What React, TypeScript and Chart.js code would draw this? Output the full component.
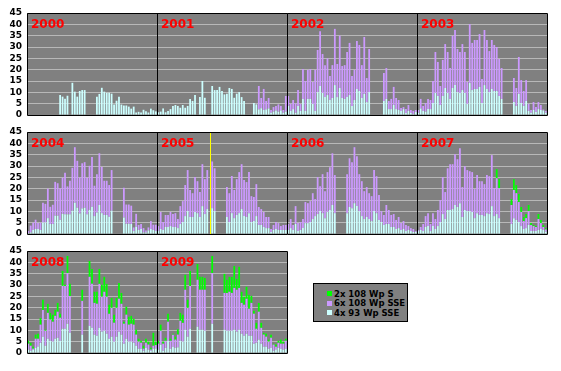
import React, { useEffect, useRef } from "react";
import { Chart, registerables } from "chart.js";
Chart.register(...registerables);

const N = null;
const WEEKS_PER_YEAR = 53;
const Y_MAX = 45;
const Y_STEP = 5;
const seriesNames = ["4x 93 Wp SSE", "6x 108 Wp SSE", "2x 108 Wp S"];
const seriesColors = ["#ccffff", "#cc99ff", "#00ff00"];
const legendOrder = [2, 1, 0];
const rowYears = [
  [2000, 2001, 2002, 2003],
  [2004, 2005, 2006, 2007],
  [2008, 2009],
];
const markerYear = 2005;
const markerWeek = 21;

// 4x 93 Wp SSE (cyan), 6x 108 Wp SSE (purple), 2x 108 Wp S (green) — weekly values
const c2000 = [N, N, N, N, N, N, N, N, N, N, N, N, N, 8.8, 8.1, 7.2, 8.5, N, 14.2, 10.3, 8.1, 10.6, 11.0, 11.0, N, N, N, N, 8.1, 9.3, 12.0, 10.3, 9.8, 9.8, 9.4, 4.6, 6.3, 8.0, 4.6, 4.2, 4.2, 3.7, 2.8, 3.7, 1.1, 1.4, 1.1, 2.3, 1.6, 1.1, 2.8, 2.1, 1.6];

const c2001 = [1.2, 1.5, 2.9, 1.2, 1.8, 2.6, 4.0, 4.4, 4.0, 3.2, 4.4, 3.2, 4.0, 7.1, 6.2, 8.8, N, 7.9, 15.0, 7.6, N, N, 12.8, 11.0, 11.0, 12.4, 10.6, 9.1, 9.4, 11.9, 11.5, 7.6, 9.4, 10.1, 7.9, 6.2, N, N, N, 5.3, 4.7, 2.5, 3.0, 2.2, 2.5, 2.9, 1.0, 1.5, 2.0, 1.5, 2.0, 1.0, 1.5];
const p2001 = [N, N, N, N, N, N, N, N, N, N, N, N, N, N, N, N, N, N, N, N, N, N, N, N, N, N, N, N, N, N, N, N, N, N, N, N, N, N, N, N, N, 10.3, 4.5, 9.3, 3.7, 4.6, 1.2, 2.0, 2.0, 3.2, 2.0, 1.2, 6.9];

const c2002 = [4.0, 1.8, 2.6, 1.0, 4.0, 1.8, 7.1, 1.8, 7.1, 7.1, 4.9, 1.8, 10.1, 12.8, 9.7, 7.9, 8.8, 6.6, 7.5, 13.2, 7.9, 11.9, 7.5, 7.1, 7.9, 8.8, 4.0, 6.6, 11.5, 10.6, 7.5, 9.3, 5.7, 10.1, N, N, N, N, N, 6.2, 7.1, 2.6, 2.6, 4.4, 2.6, 2.2, 1.8, 2.6, 0.9, 1.8, 0.9, 0.4, 1.3];
const p2002 = [4.4, 3.1, 4.0, 4.1, 7.0, 3.1, 13.2, 13.2, 12.8, 13.2, 9.7, 18.1, 18.6, 24.2, 17.2, 14.1, 16.2, 10.6, 14.5, 24.8, 14.6, 23.1, 14.1, 14.9, 19.9, 23.0, 13.2, 13.3, 21.1, 20.3, 14.5, 25.1, 10.6, 19.0, N, N, N, N, N, 12.3, 13.6, 3.6, 4.5, 8.0, 4.9, 4.4, 1.3, 0.9, 1.7, 2.6, 1.3, 1.4, 0.9];

const c2003 = [1.0, 2.9, 1.8, 1.5, 2.6, 2.6, 5.3, 9.7, 8.4, 4.4, 8.4, 11.9, 9.7, 7.1, 11.9, 13.2, 10.1, 9.7, 11.0, 9.7, 4.9, 14.1, 11.0, 11.5, 11.5, 12.4, 5.3, 13.2, 11.5, 10.1, 11.5, 10.6, 10.6, 8.4, 7.1, N, N, N, N, 5.7, 4.0, 9.3, 5.3, 4.0, 6.2, 1.8, 1.0, 2.2, 1.3, 2.6, 2.2, 2.0, 1.0];
const p2003 = [1.2, 4.2, 2.2, 3.8, 4.5, 4.0, 9.7, 18.1, 15.0, 8.4, 15.9, 19.4, 18.1, 13.6, 23.0, 24.3, 19.0, 18.1, 20.3, 18.1, 9.7, 26.0, 20.8, 21.6, 21.6, 23.3, 10.6, 24.3, 21.6, 18.1, 21.6, 20.3, 19.4, 16.3, 13.6, N, N, N, N, 10.6, 7.9, 16.3, 10.1, 6.6, 9.2, 3.1, 1.2, 3.5, 2.2, 3.1, 2.2, 0.4, 0.8];

const c2004 = [0.4, 0.7, 1.8, 2.2, 2.2, 1.8, 5.1, 5.1, 7.0, 4.4, 4.4, 8.1, 8.1, 6.3, 8.9, 8.7, 8.7, 8.7, 10.3, 13.8, 11.6, 9.1, 11.3, 11.6, 8.7, 10.7, 12.0, 7.9, 9.5, 12.8, 9.2, 8.4, 8.4, 7.6, 10.3, N, N, N, N, 7.3, 4.5, 4.5, 4.4, 1.3, 3.2, 1.8, 2.2, 0.7, 0.7, 1.6, 2.2, 1.8, 1.3];
const p2004 = [0.9, 3.0, 3.2, 4.1, 2.6, 3.2, 8.7, 8.2, 13.0, 7.6, 8.5, 14.9, 14.3, 13.8, 15.9, 18.3, 12.3, 14.8, 18.9, 24.5, 20.7, 15.8, 19.9, 20.1, 16.1, 19.4, 22.0, 13.4, 16.9, 22.8, 20.4, 15.1, 15.1, 14.0, 17.9, N, N, N, N, 13.1, 8.5, 8.5, 8.1, 1.6, 5.7, 2.2, 2.2, 1.9, 0.8, 1.3, 3.5, 2.3, 2.8];

const c2005 = [1.3, 2.2, 1.8, 3.1, 3.1, 3.5, 3.1, 3.1, 2.6, 4.4, 5.3, 7.9, 10.1, 7.5, 7.5, 9.7, 9.2, 7.5, 12.3, 8.8, 11.0, N, 11.4, 10.1, N, N, N, N, 7.5, 5.3, 9.2, 7.0, 8.4, 9.2, 11.0, 7.9, 7.5, 9.2, 5.3, 5.7, 7.9, 4.0, 4.0, 3.1, 2.6, 2.6, 0.9, 1.8, 2.2, 1.8, 1.8, 1.8, 1.8];
const p2005 = [2.2, 7.5, 3.5, 5.3, 5.3, 6.2, 5.7, 6.1, 4.0, 7.9, 9.2, 13.7, 18.1, 11.9, 10.5, 15.4, 14.1, 11.0, 18.5, 15.4, 17.2, N, 20.6, 18.9, N, N, N, N, 13.2, 12.7, 16.4, 12.4, 15.8, 18.1, 19.8, 15.9, 15.4, 18.1, 11.4, 10.6, 14.1, 7.9, 7.0, 6.6, 4.9, 4.9, 1.3, 2.2, 3.1, 3.0, 1.7, 2.2, 2.2];

const c2006 = [1.8, 2.6, 1.8, 4.4, 1.3, 1.8, 2.6, 4.8, 4.8, 5.3, 6.6, 7.9, 8.8, 10.1, 9.2, 7.0, 9.7, 10.6, 12.8, 9.2, N, N, N, N, 9.2, 11.9, 11.4, 13.6, 12.3, 10.1, 7.9, 6.6, 7.5, 6.6, 5.7, 10.1, 9.2, 6.2, 5.3, 4.0, 4.4, 4.4, 3.1, 3.1, 2.2, 2.6, 1.8, 2.2, 1.3, 1.8, 1.3, 0.9, 0.9];
const p2006 = [2.6, 4.0, 2.2, 7.9, 3.5, 3.5, 4.0, 9.3, 8.8, 9.2, 11.4, 7.5, 16.3, 11.0, 17.2, 11.9, 17.6, 18.9, 22.8, 16.8, N, N, N, N, 17.2, 21.5, 20.3, 24.7, 22.0, 16.3, 15.4, 12.3, 13.2, 11.4, 11.0, 18.1, 16.3, 11.0, 4.8, 4.4, 8.4, 6.2, 5.3, 5.7, 4.0, 4.9, 3.0, 3.5, 2.7, 1.7, 1.3, 1.3, 0.4];

const c2007 = [1.3, 1.8, 1.3, 3.1, 3.5, 1.3, 3.5, 2.2, 3.5, 5.3, 8.8, 6.6, 10.6, 10.6, 11.0, 12.8, 11.9, 13.6, 7.5, 10.6, 10.1, 10.1, 9.7, 7.0, 9.2, 8.4, 8.4, 7.9, 9.2, 8.8, 12.3, 7.9, 8.8, 7.0, N, N, N, N, 4.4, 7.0, 6.2, 5.3, 3.5, 2.2, 2.6, 4.0, 1.3, 1.3, 1.3, 1.8, 2.2, 1.8, 1.0];
const p2007 = [0.5, 1.3, 3.1, 4.8, 5.7, 3.1, 5.7, 4.4, 7.1, 9.7, 16.3, 11.9, 18.4, 20.2, 19.8, 22.4, 21.1, 24.2, 13.2, 19.3, 18.1, 17.6, 17.6, 12.8, 16.8, 14.9, 14.9, 14.1, 16.8, 16.7, 22.5, 12.3, 15.8, 13.2, N, N, N, N, 8.4, 12.4, 11.8, 8.8, 6.2, 3.5, 4.4, 6.1, 2.7, 2.2, 1.8, 4.8, 2.6, 1.3, 1.0];
const g2007 = [N, N, N, N, N, N, N, N, N, N, N, N, N, N, N, N, N, N, N, N, N, N, N, N, N, N, N, N, N, N, N, N, 4.0, 4.0, N, N, N, N, 2.6, 4.8, 3.6, 3.5, 2.2, 1.8, 1.8, 2.7, 0.8, 0.5, 0.4, 2.2, 1.4, 0.9, 0.5];

const c2008 = [1.5, 1.0, 1.5, 2.2, 2.9, 4.5, 7.2, 3.2, 6.3, 5.4, 5.0, 6.3, 6.7, 5.4, 10.7, 10.7, 12.9, 8.9, N, N, N, N, 8.1, N, N, 12.0, 11.1, 8.1, 7.6, 11.1, 9.4, 9.8, 8.5, 6.3, 7.2, 5.0, 7.2, 9.4, 8.1, 4.1, 6.3, 5.0, 5.0, 4.5, 3.2, 1.9, 1.9, 1.0, 2.3, 1.5, 1.0, 1.9, 2.0];
const p2008 = [2.6, 2.2, 0.4, 4.1, 3.4, 8.0, 11.8, 6.6, 11.4, 9.3, 8.8, 10.1, 11.5, 10.1, 18.9, 18.9, 22.4, 16.3, N, N, N, N, 14.9, N, N, 21.6, 19.4, 14.0, 14.1, 19.4, 15.4, 17.2, 16.3, 11.0, 12.7, 8.3, 12.7, 14.5, 13.6, 8.8, 10.6, 7.5, 7.9, 8.0, 4.9, 3.1, 2.6, 0.9, 2.2, 2.2, 0.5, 1.3, 1.5];
const g2008 = [1.3, 1.3, 0.9, 1.8, 2.2, 2.9, 4.5, 0.5, 4.0, 3.0, 3.1, 2.6, 3.9, 1.8, 6.6, 0.5, 7.5, 5.3, N, N, N, N, 4.9, N, N, 7.0, 6.6, 4.9, 5.3, 6.6, 5.3, 6.6, 5.7, 4.0, 4.4, 3.6, 4.4, 7.0, 4.8, 0.9, 3.5, 3.5, 3.5, 2.6, 2.2, 1.3, 0.9, 1.3, 1.8, 1.3, 0.8, 5.7, 1.5];

const c2009 = [1.5, 3.7, 1.0, 2.3, 5.4, 1.9, 2.8, 2.3, 2.5, 5.4, 5.0, 10.3, 7.2, 10.7, N, N, 11.6, 10.3, 10.3, 9.8, N, N, 12.9, N, N, N, N, 10.3, 9.8, 9.8, 9.8, 10.3, 9.4, 10.3, 8.5, 7.6, 8.5, 7.6, 7.6, 4.1, 4.5, 5.9, 4.1, 2.8, 2.8, 1.9, 2.3, 1.0, 1.5, 2.3, 1.9, 1.5, 1.9];
const p2009 = [2.6, 6.1, 3.1, 3.1, 8.4, 3.5, 5.3, 3.6, 5.6, 8.8, 8.3, 17.6, 12.7, 18.9, N, N, 20.7, 17.6, 17.6, 18.1, N, N, 22.4, N, N, N, N, 16.2, 16.7, 17.2, 16.7, 18.4, 18.5, 18.4, 13.6, 13.7, 15.4, 11.9, 14.5, 13.2, 6.2, 12.3, 7.0, 5.3, 4.4, 3.1, 4.4, 2.7, 1.3, 2.2, 2.2, 2.6, 3.5];
const g2009 = [1.3, 2.7, 0.9, 1.3, 3.5, 0.9, 0.4, 1.3, 2.4, 3.5, 3.6, 6.6, 3.6, 6.6, N, N, 7.0, 5.7, 5.7, 5.2, N, N, 7.5, N, N, N, N, 8.4, 5.8, 6.6, 7.1, 9.7, 4.8, 9.3, 4.9, 3.5, 5.3, 6.2, 3.1, 1.3, 2.6, 3.9, 2.2, 0.8, 1.3, 0.9, 1.4, 0.4, 0.9, 0.9, 1.8, 0.9, 0.9];

const cyanByYear: Record<number, (number | null)[]> = {
  2000: c2000, 2001: c2001, 2002: c2002, 2003: c2003, 2004: c2004,
  2005: c2005, 2006: c2006, 2007: c2007, 2008: c2008, 2009: c2009,
};
const purpleByYear: Record<number, (number | null)[]> = {
  2001: p2001, 2002: p2002, 2003: p2003, 2004: p2004,
  2005: p2005, 2006: p2006, 2007: p2007, 2008: p2008, 2009: p2009,
};
const greenByYear: Record<number, (number | null)[]> = {
  2007: g2007, 2008: g2008, 2009: g2009,
};

const PANEL_W = 130;
const AXIS_W = 27;
const PAD_TOP = 13;
const PLOT_H = 102;
const CANVAS_H = 125;
const ROW_TOPS = [0, 119, 238];
const FONT = '"DejaVu Sans", Verdana, sans-serif';

function pick(years: number[], table: Record<number, (number | null)[]>) {
  const out: (number | null)[] = [];
  years.forEach((y) => {
    const arr = table[y];
    for (let w = 0; w < WEEKS_PER_YEAR; w++) out.push(arr ? (arr[w] ?? null) : null);
  });
  return out;
}

function RowChart({ years, top }: { years: number[]; top: number }) {
  const ref = useRef<HTMLCanvasElement>(null);
  const width = AXIS_W + years.length * PANEL_W + 14;
  useEffect(() => {
    if (!ref.current) return;
    const labels: string[] = [];
    years.forEach((y) => {
      for (let w = 1; w <= WEEKS_PER_YEAR; w++) labels.push(`${y}-${w}`);
    });
    const decor = {
      id: "decor",
      beforeDraw(chart: any) {
        const { ctx, chartArea: a } = chart;
        ctx.save();
        ctx.fillStyle = "#808080";
        ctx.fillRect(a.left, a.top, a.right - a.left, a.bottom - a.top);
        ctx.restore();
      },
      afterDatasetsDraw(chart: any) {
        const { ctx, chartArea: a } = chart;
        const xs = chart.scales.x;
        ctx.save();
        const mi = years.indexOf(markerYear);
        if (mi >= 0) {
          const mx = Math.round(xs.getPixelForValue(mi * WEEKS_PER_YEAR + markerWeek)) + 0.5;
          ctx.strokeStyle = "#ffff00";
          ctx.lineWidth = 1;
          ctx.beginPath();
          ctx.moveTo(mx, a.top);
          ctx.lineTo(mx, a.bottom);
          ctx.stroke();
        }
        ctx.strokeStyle = "#000";
        ctx.lineWidth = 1;
        const L = Math.round(a.left) + 0.5;
        const R = Math.round(a.right) + 0.5;
        const T = Math.round(a.top) + 0.5;
        const B = Math.round(a.bottom) + 0.5;
        ctx.beginPath();
        ctx.moveTo(L, T); ctx.lineTo(R, T); ctx.lineTo(R, B); ctx.lineTo(L, B); ctx.closePath();
        const pw = (a.right - a.left) / years.length;
        for (let k = 1; k < years.length; k++) {
          const x = Math.round(a.left + k * pw) + 0.5;
          ctx.moveTo(x, T); ctx.lineTo(x, B);
        }
        ctx.stroke();
        ctx.fillStyle = "#ff0000";
        ctx.font = `bold 12px ${FONT}`;
        ctx.textAlign = "left";
        ctx.textBaseline = "alphabetic";
        years.forEach((y, k) => {
          ctx.fillText(String(y), a.left + k * pw + 4, a.top + 14.5);
        });
        ctx.restore();
      },
    };
    const chart = new Chart(ref.current, {
      type: "bar",
      data: {
        labels,
        datasets: [
          { label: seriesNames[0], data: pick(years, cyanByYear), backgroundColor: seriesColors[0] },
          { label: seriesNames[1], data: pick(years, purpleByYear), backgroundColor: seriesColors[1] },
          { label: seriesNames[2], data: pick(years, greenByYear), backgroundColor: seriesColors[2] },
        ],
      },
      options: {
        animation: false,
        responsive: false,
        devicePixelRatio: 1,
        layout: { padding: { top: PAD_TOP, right: 14, bottom: CANVAS_H - PAD_TOP - PLOT_H, left: 0 } },
        datasets: { bar: { barPercentage: 1, categoryPercentage: 0.72, borderWidth: 0 } },
        plugins: { legend: { display: false }, tooltip: { enabled: false }, title: { display: false } },
        scales: {
          x: { stacked: true, display: false },
          y: {
            stacked: true,
            min: 0,
            max: Y_MAX,
            afterFit: (s: any) => { s.width = AXIS_W; },
            border: { display: false },
            grid: {
              drawTicks: false,
              color: (c: any) => (c.tick && (c.tick.value === 0 || c.tick.value === Y_MAX) ? "rgba(0,0,0,0)" : "#b8b8b8"),
            },
            ticks: {
              stepSize: Y_STEP,
              autoSkip: false,
              maxTicksLimit: 20,
              padding: 5,
              color: "#000",
              font: { family: FONT, size: 9, weight: "bold", lineHeight: 1 },
            },
          },
        },
      } as any,
      plugins: [decor],
    });
    return () => chart.destroy();
  }, []);
  return (
    <canvas
      ref={ref}
      width={width}
      height={CANVAS_H}
      style={{ position: "absolute", left: 0, top, width, height: CANVAS_H }}
    />
  );
}

export default function App() {
  useEffect(() => {
    document.body.style.margin = "0";
  }, []);
  return (
    <div style={{ position: "fixed", left: 0, top: 0, width: 561, height: 371, background: "#fff", overflow: "hidden" }}>
      {rowYears.map((ys, i) => (
        <RowChart key={i} years={ys} top={ROW_TOPS[i]} />
      ))}
      <div
        style={{
          position: "absolute",
          left: 313,
          top: 283,
          width: 95,
          height: 39,
          boxSizing: "border-box",
          border: "1px solid #000",
          background: "#808080",
          paddingTop: 5,
          paddingLeft: 13,
          fontFamily: FONT,
          fontWeight: "bold",
          fontSize: 8.5,
          color: "#000",
        }}
      >
        {legendOrder.map((si) => (
          <div key={si} style={{ display: "flex", alignItems: "center", height: 9.5, whiteSpace: "nowrap" }}>
            <span style={{ display: "inline-block", width: 5, height: 5, background: seriesColors[si], marginRight: 2 }} />
            <span>{seriesNames[si]}</span>
          </div>
        ))}
      </div>
    </div>
  );
}
